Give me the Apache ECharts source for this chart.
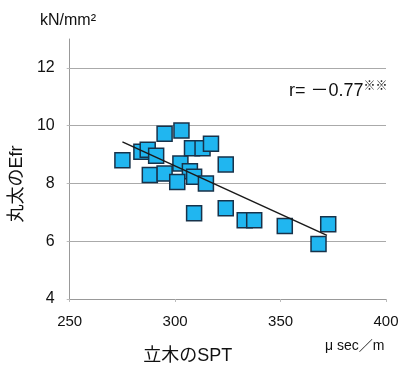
<!DOCTYPE html>
<html>
<head>
<meta charset="utf-8">
<script src="https://cdn.jsdelivr.net/npm/echarts@6/dist/echarts.min.js"></script>
<style>
  html, body { margin: 0; padding: 0; background: #fff; }
  #chart { width: 404px; height: 370px; }
</style>
</head>
<body>
<div id="chart"></div>
<script>
// 立木のSPT (μsec/m) と 丸太のEfr (kN/mm2)
const sptValues = [275, 284, 287, 291, 295, 303, 288, 295, 302.5, 307, 301, 309, 314.6, 308, 313, 317, 324, 309, 324, 333, 337.5, 352, 368, 372.6];
const efrValues = [8.8, 9.1, 9.17, 8.96, 9.72, 9.83, 8.29, 8.34, 8.69, 8.42, 8.05, 8.23, 8.0, 9.22, 9.22, 9.37, 8.66, 6.97, 7.14, 6.73, 6.73, 6.53, 5.9, 6.59];
// 回帰直線の両端
const trendX = [275, 372];
const trendY = [9.44, 6.2];

const FONT = "'Liberation Sans', Arial, 'Noto Sans CJK JP', sans-serif";

const chart = echarts.init(document.getElementById("chart"));

chart.setOption({
  animation: false,
  backgroundColor: "#fff",
  grid: { left: 64, right: 18, top: 39, bottom: 69 },
  xAxis: {
    type: "value",
    min: 250,
    max: 400,
    interval: 50,
    name: "立木のSPT",
    nameLocation: "middle",
    nameGap: 48,
    // 軸の中央より左寄り
    nameTextStyle: { fontFamily: FONT, fontSize: 18, color: "#111", padding: [0, 80, 0, 0] },
    axisLine: { lineStyle: { color: "#999", width: 1 } },
    axisTick: { show: true, length: 3, lineStyle: { color: "#bbb" } },
    axisLabel: { fontFamily: FONT, fontSize: 15, color: "#111", margin: 15 },
    splitLine: { show: false },
  },
  yAxis: {
    type: "value",
    min: 4,
    max: 13,
    interval: 2,
    name: "丸太のEfr",
    nameLocation: "middle",
    nameGap: 35,
    nameTextStyle: { fontFamily: FONT, fontSize: 18, color: "#111", padding: [0, 30, 0, 0] },
    axisLine: { show: true, lineStyle: { color: "#999", width: 1 } },
    axisTick: { show: true, length: 3, lineStyle: { color: "#bbb" } },
    axisLabel: { fontFamily: FONT, fontSize: 16, color: "#111", margin: 15, showMaxLabel: false },
    splitLine: { show: true, showMaxLine: false, lineStyle: { color: "#aaa", width: 1 } },
  },
  graphic: [
    {
      type: "text",
      left: 40,
      top: 13,
      style: { text: "kN/mm²", fontFamily: FONT, fontSize: 16, fill: "#111" },
    },
    {
      type: "text",
      left: 289,
      top: 81,
      style: {
        text: "{a|r= －0.77}{b|※※}",
        rich: {
          a: { fontFamily: FONT, fontSize: 18, fill: "#111" },
          b: { fontFamily: FONT, fontSize: 12, fill: "#111", verticalAlign: "top", padding: [0, 0, 8, 0] },
        },
      },
    },
    {
      type: "text",
      left: 325,
      top: 339,
      style: { text: "μ sec／m", fontFamily: FONT, fontSize: 14, fill: "#111" },
    },
  ],
  series: [
    {
      type: "scatter",
      symbol: "rect",
      symbolSize: 15,
      data: sptValues.map((x, i) => [x, efrValues[i]]),
      itemStyle: { color: "#20b6f0", borderColor: "#17324a", borderWidth: 1.5, opacity: 1 },
      z: 2,
    },
    {
      type: "line",
      data: trendX.map((x, i) => [x, trendY[i]]),
      showSymbol: false,
      symbol: "none",
      lineStyle: { color: "#1a1a1a", width: 1.4 },
      z: 3,
    },
  ],
});
</script>
</body>
</html>
